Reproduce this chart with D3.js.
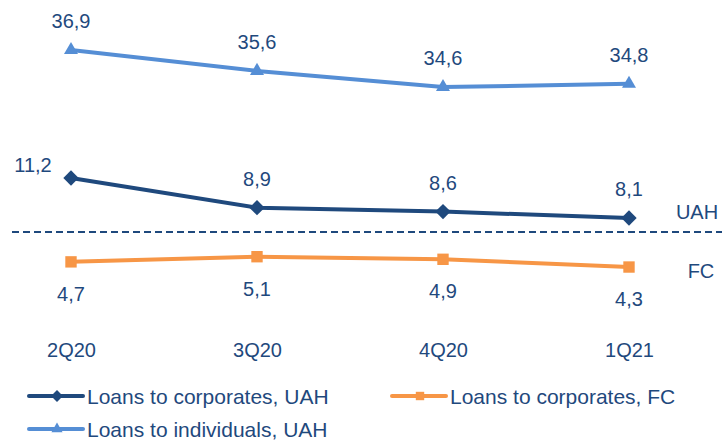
<!DOCTYPE html>
<html lang="en">
<head>
  <meta charset="UTF-8">
  <title>Loans chart</title>
  <style>
    body {
      margin: 0;
      background: #fff;
    }

    text {
      font-family: "Liberation Sans", Arial, sans-serif;
      fill: #1F497D;
    }
  </style>
</head>
<body>
<div class="chart"></div>
</body>
<script src="https://d3js.org/d3.v7.min.js"></script>
<script>
  // data
  let quarters = ['2Q20', '3Q20', '4Q20', '1Q21']
  let corpUah = [11.2, 8.9, 8.6, 8.1]
  let corpFc = [4.7, 5.1, 4.9, 4.3]
  let indivUah = [36.9, 35.6, 34.6, 34.8]
  let seriesNames = ['Loans to corporates, UAH', 'Loans to corporates, FC', 'Loans to individuals, UAH']

  let navy = '#1F497D'
  let orange = '#F79646'
  let lightBlue = '#558ED5'

  let svg = d3.select('.chart').append('svg')
    .attr('width', 725)
    .attr('height', 441)

  let x = d3.scalePoint()
    .domain(quarters)
    .range([71, 629])

  // corporates share one scale, individuals sit on their own (upper) scale
  let yCorp = d3.scaleLinear()
    .domain([4, 12])
    .range([270.9, 167.7])

  let yInd = d3.scaleLinear()
    .domain([34, 37])
    .range([96.7, 48.4])

  // dashed separator UAH / FC
  svg.append('line')
    .attr('x1', 12)
    .attr('x2', 722)
    .attr('y1', 232)
    .attr('y2', 232)
    .attr('stroke', navy)
    .attr('stroke-width', 1.8)
    .attr('stroke-dasharray', '7,4')

  svg.append('text')
    .attr('x', 697)
    .attr('y', 219)
    .attr('text-anchor', 'middle')
    .attr('font-size', '20px')
    .text('UAH')

  svg.append('text')
    .attr('x', 701)
    .attr('y', 278)
    .attr('text-anchor', 'middle')
    .attr('font-size', '20px')
    .text('FC')

  let symDiamond = d3.symbol().type(d3.symbolDiamond2).size(150)
  let symSquare = d3.symbol().type(d3.symbolSquare2).size(165)
  let symTriangle = d3.symbol().type(d3.symbolTriangle2).size(140)

  let series = [
    {name: seriesNames[2], values: indivUah, y: yInd, color: lightBlue, sym: symTriangle, pos: 'above'},
    {name: seriesNames[0], values: corpUah, y: yCorp, color: navy, sym: symDiamond, pos: 'above'},
    {name: seriesNames[1], values: corpFc, y: yCorp, color: orange, sym: symSquare, pos: 'below'},
  ]

  let line = (s) => d3.line()
    .x((d, i) => x(quarters[i]))
    .y((d) => s.y(d))

  series.forEach((s) => {
    let g = svg.append('g')

    g.append('path')
      .datum(s.values)
      .attr('d', line(s))
      .attr('fill', 'none')
      .attr('stroke', s.color)
      .attr('stroke-width', 4)

    g.selectAll('.mark')
      .data(s.values)
      .enter()
      .append('path')
      .attr('class', 'mark')
      .attr('d', s.sym)
      .attr('fill', s.color)
      .attr('transform', (d, i) => 'translate(' + x(quarters[i]) + ',' + s.y(d) + ')')

    g.selectAll('.lbl')
      .data(s.values)
      .enter()
      .append('text')
      .attr('class', 'lbl')
      .attr('text-anchor', 'middle')
      .attr('font-size', '20px')
      .attr('x', (d, i) => {
        // first corporate label sits up-left of its marker
        if (s.values === corpUah && i === 0) return x(quarters[i]) - 38
        return x(quarters[i])
      })
      .attr('y', (d, i) => {
        if (s.values === corpUah && i === 0) return s.y(d) - 6
        return s.pos === 'above' ? s.y(d) - 22 : s.y(d) + 39
      })
      .text((d) => d.toFixed(1).replace('.', ','))
  })

  // category labels
  let xAxis = d3.axisBottom(x)
    .tickSize(0)
    .tickPadding(0)

  let ax = svg.append('g')
    .attr('transform', 'translate(0,343)')
    .call(xAxis)
  ax.select('.domain').remove()
  ax.selectAll('text')
    .attr('font-size', '20px')
    .attr('font-family', '"Liberation Sans", Arial, sans-serif')
    .attr('fill', navy)

  // legend
  let legend = [
    {name: seriesNames[0], color: navy, sym: symDiamond, x: 29, y: 396},
    {name: seriesNames[1], color: orange, sym: symSquare, x: 392, y: 396},
    {name: seriesNames[2], color: lightBlue, sym: symTriangle, x: 29, y: 429},
  ]

  let items = svg.selectAll('.legend')
    .data(legend)
    .enter()
    .append('g')
    .attr('class', 'legend')
    .attr('transform', (d) => 'translate(' + d.x + ',' + d.y + ')')

  items.append('line')
    .attr('x1', 0)
    .attr('x2', 54)
    .attr('stroke', (d) => d.color)
    .attr('stroke-width', 4)
    .attr('stroke-linecap', 'round')

  items.append('path')
    .attr('d', (d) => d.sym.size(90)())
    .attr('fill', (d) => d.color)
    .attr('transform', 'translate(28,0)')

  items.append('text')
    .attr('x', 58)
    .attr('y', 7.5)
    .attr('font-size', '21px')
    .text((d) => d.name)
</script>
</html>
